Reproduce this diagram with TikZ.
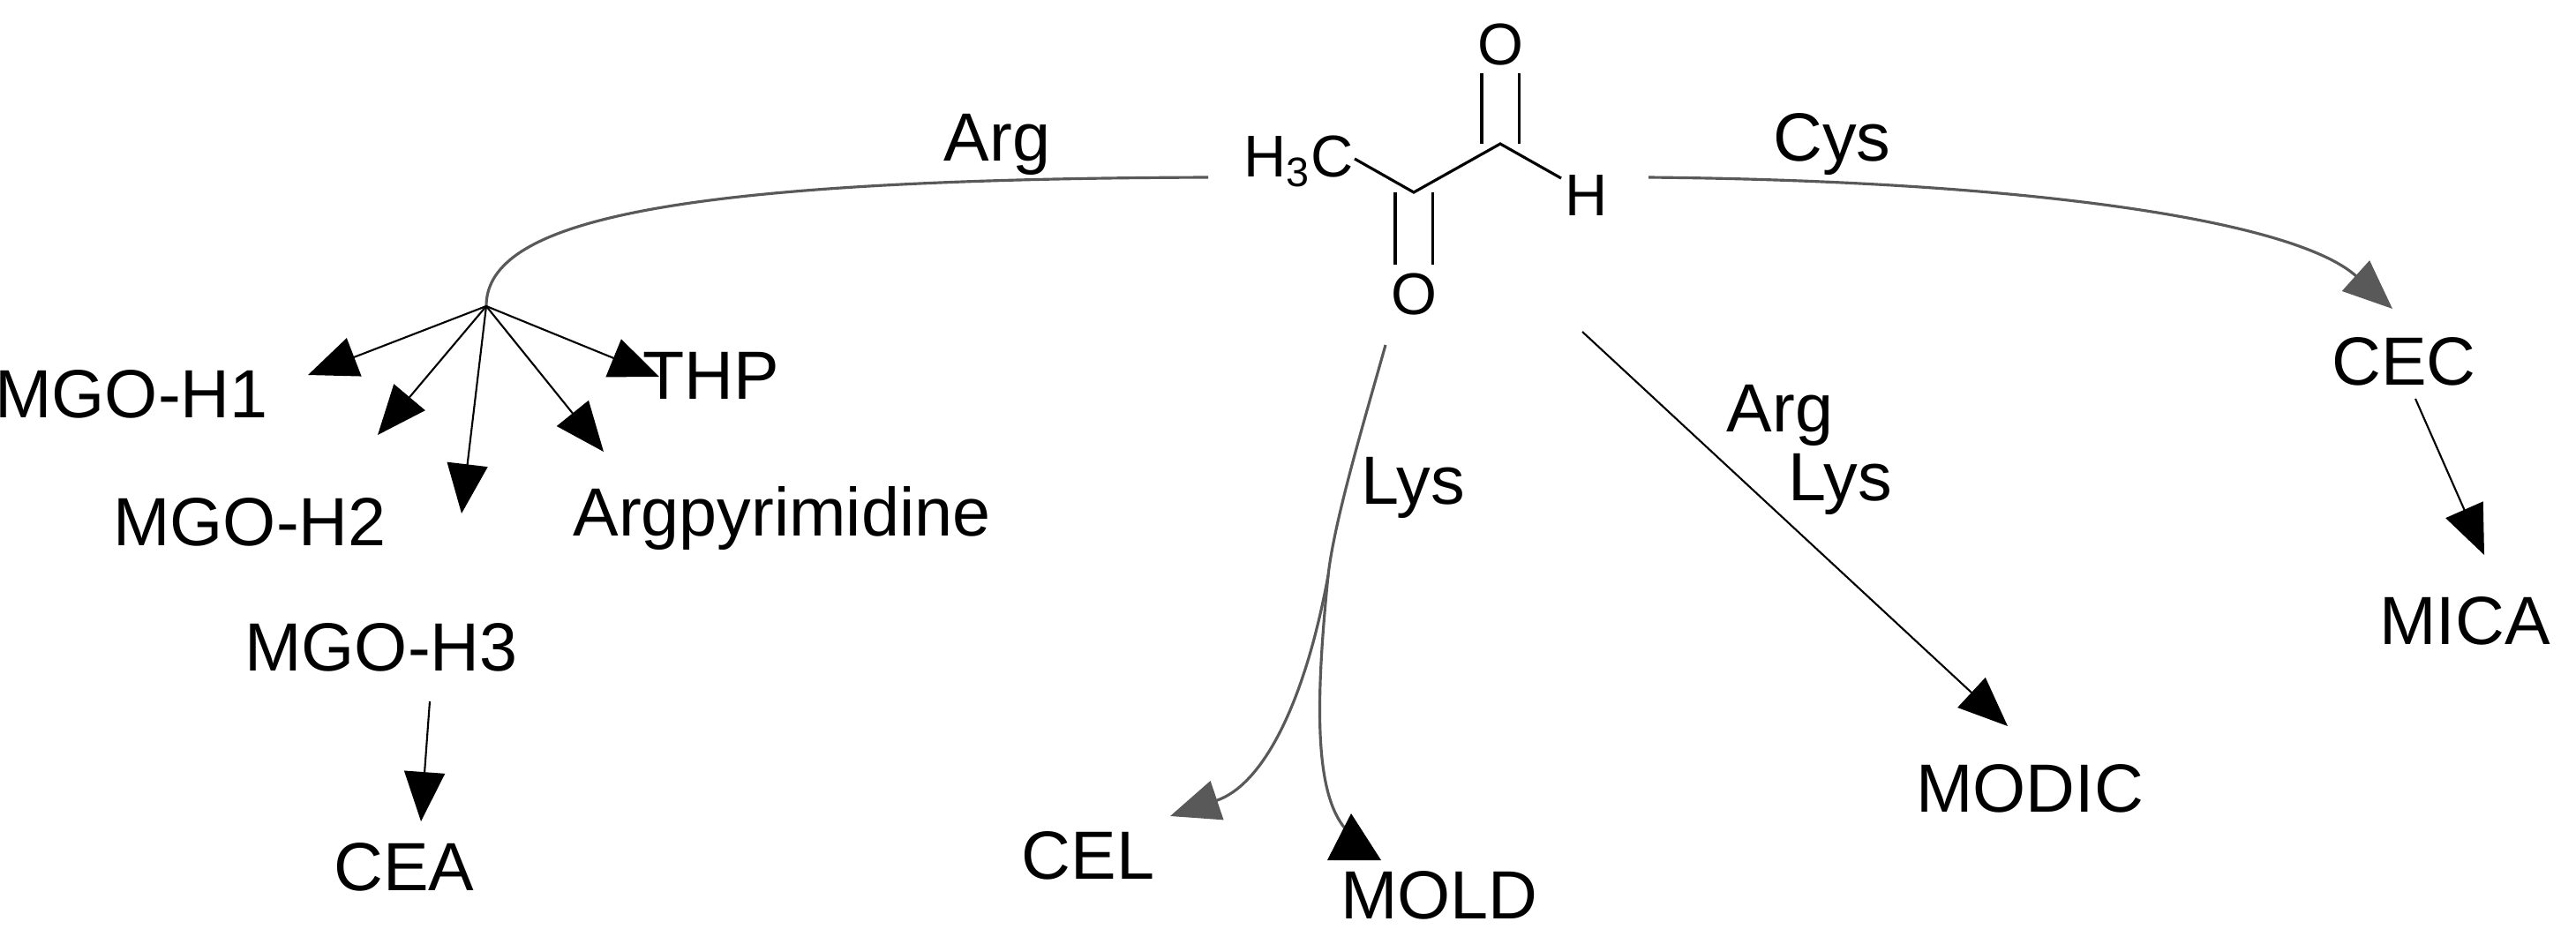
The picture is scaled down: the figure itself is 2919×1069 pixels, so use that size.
\documentclass[tikz,border=0pt]{standalone}
\usepackage{fontspec}
\setmainfont{Liberation Sans}
\usetikzlibrary{arrows.meta}
\begin{document}
\begin{tikzpicture}[x=0.1mm,y=-0.1mm,
  lbl/.style={font=\fontsize{22}{24}\selectfont, inner sep=0pt},
  mol/.style={font=\fontsize{19}{21}\selectfont, inner sep=0pt},
  bond/.style={line width=0.9pt},
  curv/.style={draw=black!65, line width=0.9pt},
  strl/.style={draw=black, line width=0.6pt},
  tip/.style={-{Triangle[length=5.6mm,width=4.6mm]}}]
\useasboundingbox (0,0) rectangle (2919,1069);
% molecule
\node[mol, anchor=base west] (h3c) at (1409,200) {H$_\mathrm{3}$C};
\node[mol] (otop) at (1700,51) {O};
\node[mol] (obot) at (1602,333) {O};
\node[mol] (hh) at (1798,222) {H};
\coordinate (c1) at (1535,180);
\coordinate (c2) at (1602,218);
\coordinate (c3) at (1700,163);
\coordinate (c4) at (1769,202);
\draw[bond] (c1) -- (c2) -- (c3) -- (c4);
\draw[bond] ([xshift=-6]c2) -- ++(0,82) ([xshift=6]c2) -- ++(0,82);
\draw[bond] ([xshift=-6]c3) -- ++(0,-80) ([xshift=6]c3) -- ++(0,-80);
% labels
\node[lbl] (argl) at (1130,164) {Arg};
\node[lbl] (cysl) at (2076,164) {Cys};
\node[lbl] (mgoh1) at (149,447) {MGO-H1};
\node[lbl] (mgoh2) at (283,592) {MGO-H2};
\node[lbl] (argp) at (886,587) {Argpyrimidine};
\node[lbl] (thp) at (806,426) {THP};
\node[lbl] (mgoh3) at (432,734) {MGO-H3};
\node[lbl] (cea) at (458,983) {CEA};
\node[lbl] (lysl) at (1601,553) {Lys};
\node[lbl] (cel) at (1233,970) {CEL};
\node[lbl] (mold) at (1631,1015) {MOLD};
\node[lbl] (argl2) at (2017,471) {Arg};
\node[lbl] (lysl2) at (2085,549) {Lys};
\node[lbl] (modic) at (2300,894) {MODIC};
\node[lbl] (cec) at (2724,410) {CEC};
\node[lbl] (mica) at (2793,704) {MICA};
% Arg branch
\coordinate (argstart) at (1369,201);
\coordinate (hub) at (551,347);
\draw[curv] (argstart) .. controls (760,203) and (551,250) .. (hub);
\coordinate (t1) at (349,425);
\coordinate (t2) at (428,493);
\coordinate (t3) at (523,582);
\coordinate (t4) at (684,512);
\coordinate (t5) at (747,427);
\foreach \t in {t1,t2,t3,t4,t5} \draw[strl,tip] (hub) -- (\t);
\coordinate (s3) at (487,795);
\coordinate (e3) at (477,931);
\draw[strl,tip] (s3) -- (e3);
% Lys branch
\coordinate (lysstart) at (1570,391);
\coordinate (lysmid) at (1505,652);
\coordinate (celtip) at (1326,925);
\coordinate (moldend) at (1525,940);
\draw[curv] (lysstart) .. controls (1545,480) and (1512,590) .. (lysmid);
\draw[curv,tip] (lysmid) .. controls (1478,800) and (1430,890) .. (celtip);
\draw[curv] (lysmid) .. controls (1490,800) and (1490,900) .. (moldend);
\fill (1531,922) -- (1504,975) -- (1565,975) -- cycle;
% MODIC
\coordinate (ms) at (1793,376);
\coordinate (mt) at (2275,823);
\draw[strl,tip] (ms) -- (mt);
% Cys branch
\coordinate (cysstart) at (1868,201);
\coordinate (cectip) at (2711,350);
\draw[curv,tip] (cysstart) .. controls (2300,205) and (2600,250) .. (cectip);
\coordinate (cs) at (2737,452);
\coordinate (ct) at (2815,629);
\draw[strl,tip] (cs) -- (ct);
\end{tikzpicture}
\end{document}
